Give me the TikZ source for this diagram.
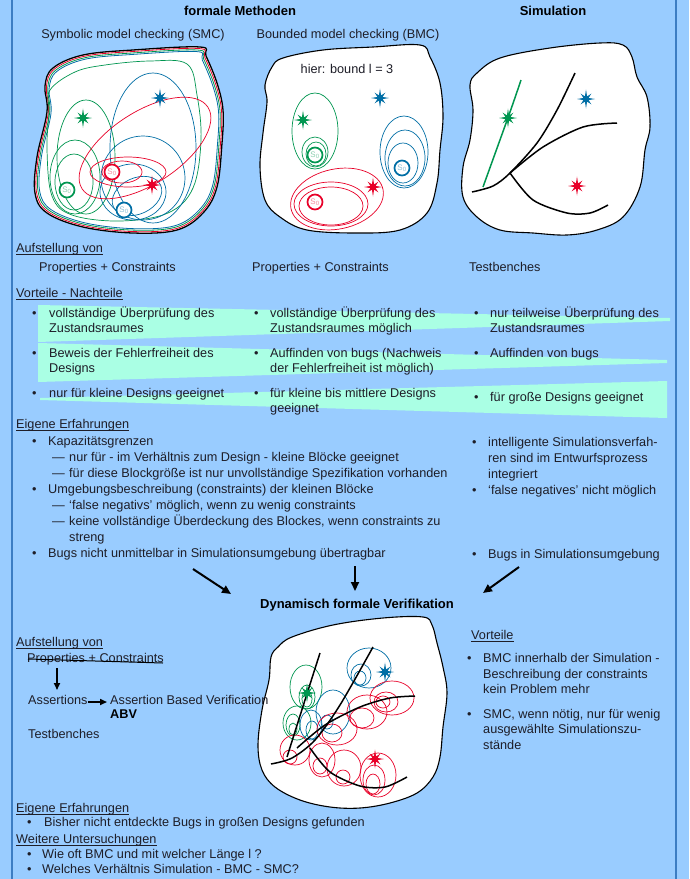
\documentclass[tikz,border=0pt]{standalone}
\usepackage{fontspec}
\setmainfont{Liberation Sans}
\usetikzlibrary{arrows.meta}
\definecolor{bg}{RGB}{153,204,255}
\definecolor{vline}{RGB}{60,125,195}
\definecolor{band}{RGB}{170,255,228}
\definecolor{cg}{RGB}{0,150,80}
\definecolor{cb}{RGB}{0,110,165}
\definecolor{cr}{RGB}{232,0,40}
\definecolor{txt}{RGB}{30,30,40}
\tikzset{
  tx/.style={anchor=base west, inner sep=0pt, text=txt, font=\fontsize{12.7}{16}\selectfont},
  ctr/.style={tx, anchor=base},
  ttl/.style={anchor=base, inner sep=0pt, text=black, font=\fontsize{13}{16}\selectfont\bfseries},
  blobline/.style={draw=black, fill=white, line width=1.1pt},
  ell/.style={line width=0.7pt},
  szero/.style={circle, draw=#1, line width=1.7pt, minimum size=15pt, inner sep=0pt, text=#1!45!white, font=\fontsize{8}{8}\selectfont},
  bigarrow/.style={line width=2pt, -{Triangle[length=9pt,width=8pt]}},
  smallarrow/.style={line width=1.6pt, -{Triangle[length=7pt,width=6pt]}},
  curve/.style={line width=1.5pt, black},
  uline/.style={draw=txt, line width=0.6pt},
}
\newcommand\drawstar[3]{\fill[#3, shift={(#1,#2)}] (90:9.5) -- (112.5:2.8) -- (135:7.5) -- (157.5:2.8) -- (180:9) -- (202.5:2.8) -- (225:7.5) -- (247.5:2.8) -- (270:9.5) -- (292.5:2.8) -- (315:7.5) -- (337.5:2.8) -- (0:9) -- (22.5:2.8) -- (45:7.5) -- (67.5:2.8) -- cycle;}
\newcommand\ulnode[1]{\draw[uline] ([yshift=-2pt]#1.base west) -- ([yshift=-2pt]#1.base east);}
\begin{document}
\begin{tikzpicture}[x=1pt,y=-1pt]
\useasboundingbox (0,0) rectangle (689,879);
\fill[bg] (0,0) rectangle (689,879);
\draw[vline, line width=1.2pt] (12,0) -- (12,879);
\draw[vline, line width=1.2pt] (676,0) -- (676,879);

% green bands
\fill[band] (38,305) -- (670,318) -- (670,321) -- (38,342) -- cycle;
\fill[band] (38,343) -- (667,360) -- (667,363) -- (38,382) -- cycle;
\fill[band] (40,398) -- (667,381) -- (667,418) -- (40,400) -- cycle;

% headings
\node[ttl] (h1) at (240,15) {formale Methoden};
\node[ttl] (h2) at (553,15) {Simulation};
\node[ctr] (s1) at (133,38) {Symbolic model checking (SMC)};
\node[ctr] (s2) at (348,38) {Bounded model checking (BMC)};

% ---------- SMC blob ----------
\fill[white] plot[smooth cycle, tension=0.6] coordinates {(45,86) (53,68) (83,55) (133,50) (200,47) (206,56) (217,83) (223,110) (222,143) (217,187) (203,213) (177,230) (133,233) (83,227) (47,213) (35,193) (37,157) (47,112)};
\foreach \c/\s/\w in {black/1/1.3pt, cr/0.984/0.8pt, cg/0.968/0.8pt, cb/0.952/0.8pt} {
  \draw[\c, line width=\w, scale around={\s:(130,142)}] plot[smooth cycle, tension=0.6] coordinates {(45,86) (53,68) (83,55) (133,50) (200,47) (206,56) (217,83) (223,110) (222,143) (217,187) (203,213) (177,230) (133,233) (83,227) (47,213) (35,193) (37,157) (47,112)};
}
\draw[cg, ell] plot[smooth cycle, tension=0.6] coordinates {(50,90) (75,72) (105,65) (150,61) (187,64) (197,95) (201,140) (193,188) (168,213) (120,221) (72,215) (52,196) (47,150) (49,112)};
\draw[cg, ell] (86,157) ellipse [x radius=29, y radius=57];
\draw[cg, ell] (75,177) ellipse [x radius=25, y radius=37];
\draw[cg, ell] (74,182) ellipse [x radius=19, y radius=28];
\draw[cb, ell] (153,148) ellipse [x radius=43, y radius=75];
\draw[cb, ell] (143,178) ellipse [x radius=42, y radius=42];
\draw[cb, ell] (133,192) ellipse [x radius=33, y radius=28];
\draw[cb, ell, shift={(137,196)}, rotate=25] (0,0) ellipse [x radius=26, y radius=18];
\draw[cr, ell, shift={(145,148)}, rotate=33] (0,0) ellipse [x radius=75, y radius=36];
\draw[cr, ell] (128,172) ellipse [x radius=38, y radius=15];
\draw[cr, ell] (122,172) ellipse [x radius=20, y radius=11];
\drawstar{83}{118}{cg}
\drawstar{160}{98}{cb}
\drawstar{152}{185}{cr}
\node[szero=cg, fill=white] (smczg) at (67,190) {S\textsubscript{0}};
\node[szero=cr, fill=white] (smczr) at (112,172) {S\textsubscript{0}};
\node[szero=cb, fill=white] (smczb) at (124,210) {S\textsubscript{0}};

% ---------- BMC blob ----------
\draw[blobline] plot[smooth cycle, tension=0.6] coordinates {(265,85) (272,67) (283,58) (323,50) (373,47) (420,45) (430,57) (440,83) (443,117) (440,150) (437,183) (427,213) (400,230) (357,233) (307,230) (280,217) (265,200) (260,167) (263,133) (267,102)};
\node[ctr] (s3) at (347,73) {hier: bound l = 3};
\draw[cg, ell] (315,131) ellipse [x radius=23, y radius=38];
\draw[cg, ell] (315,152) ellipse [x radius=13, y radius=15];
\draw[cg, ell] (316,154) ellipse [x radius=10, y radius=12];
\draw[cb, ell] (404,152) ellipse [x radius=24, y radius=36];
\draw[cb, ell] (405,158) ellipse [x radius=20, y radius=28];
\draw[cb, ell] (403,163) ellipse [x radius=15, y radius=20];
\draw[cr, ell, shift={(337,199)}, rotate=12] (0,0) ellipse [x radius=47, y radius=30];
\draw[cr, ell] (331,204) ellipse [x radius=37, y radius=22];
\draw[cr, ell] (331,206) ellipse [x radius=32, y radius=19];
\drawstar{303}{120}{cg}
\drawstar{380}{98}{cb}
\drawstar{373}{187}{cr}
\node[szero=cg, fill=white] (bmczg) at (315,155) {S\textsubscript{0}};
\node[szero=cb, fill=white] (bmczb) at (402,168) {S\textsubscript{0}};
\node[szero=cr, fill=white] (bmczr) at (315,202) {S\textsubscript{0}};

% ---------- Simulation blob ----------
\draw[blobline] plot[smooth cycle, tension=0.6] coordinates {(470,85) (477,73) (500,58) (550,48) (600,43) (623,45) (632,57) (637,77) (647,97) (650,127) (645,150) (640,187) (623,217) (597,230) (567,235) (533,233) (500,230) (477,217) (463,197) (463,167) (470,140) (473,110)};
\draw[cg, line width=1.5pt] plot[smooth] coordinates {(521,80) (510,112) (483,187)};
\draw[curve] plot[smooth] coordinates {(472,192) (493,186) (510,173) (537,143) (557,110) (575,73)};
\draw[curve] plot[smooth] coordinates {(510,173) (543,147) (583,127) (617,123)};
\draw[curve] plot[smooth] coordinates {(510,173) (533,200) (567,213) (590,213) (608,205)};
\drawstar{508}{118}{cg}
\drawstar{586}{99}{cb}
\drawstar{577}{186}{cr}

% ---------- row texts ----------
\node[tx] (auf1) at (16,252) {Aufstellung von}; \ulnode{auf1}
\node[tx] (pc1) at (39,271) {Properties + Constraints};
\node[tx] (pc2) at (252,271) {Properties + Constraints};
\node[tx] (tb1) at (469,271) {Testbenches};
\node[tx] (vn) at (16,297) {Vorteile - Nachteile}; \ulnode{vn}

\node[tx] (b11) at (32,317) {•};
\node[tx] (t11) at (49,317) {vollständige Überprüfung des};
\node[tx] (t12) at (49,332) {Zustandsraumes};
\node[tx] (b12) at (32,357) {•};
\node[tx] (t13) at (49,357) {Beweis der Fehlerfreiheit des};
\node[tx] (t14) at (49,372) {Designs};
\node[tx] (b13) at (32,397) {•};
\node[tx] (t15) at (49,397) {nur für kleine Designs geeignet};

\node[tx] (b21) at (254,317) {•};
\node[tx] (t21) at (270,317) {vollständige Überprüfung des};
\node[tx] (t22) at (270,332) {Zustandsraumes möglich};
\node[tx] (b22) at (254,357) {•};
\node[tx] (t23) at (270,357) {Auffinden von bugs (Nachweis};
\node[tx] (t24) at (270,372) {der Fehlerfreiheit ist möglich)};
\node[tx] (b23) at (254,397) {•};
\node[tx] (t25) at (270,397) {für kleine bis mittlere Designs};
\node[tx] (t26) at (270,412) {geeignet};

\node[tx] (b31) at (474,317) {•};
\node[tx] (t31) at (490,317) {nur teilweise Überprüfung des};
\node[tx] (t32) at (490,332) {Zustandsraumes};
\node[tx] (b32) at (474,357) {•};
\node[tx] (t33) at (490,357) {Auffinden von bugs};
\node[tx] (b33) at (474,401) {•};
\node[tx] (t34) at (490,401) {für große Designs geeignet};

% ---------- Eigene Erfahrungen ----------
\node[tx] (ee1) at (16,428) {Eigene Erfahrungen}; \ulnode{ee1}
\node[tx] (e1b) at (32,445) {•};
\node[tx] (e1) at (48,445) {Kapazitätsgrenzen};
\node[tx] (e2d) at (52,461) {—};
\node[tx] (e2) at (69,461) {nur für - im Verhältnis zum Design - kleine Blöcke geeignet};
\node[tx] (e3d) at (52,477) {—};
\node[tx] (e3) at (69,477) {für diese Blockgröße ist nur unvollständige Spezifikation vorhanden};
\node[tx] (e4b) at (32,493) {•};
\node[tx] (e4) at (48,493) {Umgebungsbeschreibung (constraints) der kleinen Blöcke};
\node[tx] (e5d) at (52,509) {—};
\node[tx] (e5) at (69,509) {‘false negativs’ möglich, wenn zu wenig constraints};
\node[tx] (e6d) at (52,525) {—};
\node[tx] (e6) at (69,525) {keine vollständige Überdeckung des Blockes, wenn constraints zu};
\node[tx] (e7) at (69,541) {streng};
\node[tx] (e8b) at (32,557) {•};
\node[tx] (e8) at (48,557) {Bugs nicht unmittelbar in Simulationsumgebung übertragbar};

\node[tx] (r1b) at (472,446) {•};
\node[tx] (r1) at (488,446) {intelligente Simulationsverfah-};
\node[tx] (r2) at (488,462) {ren sind im Entwurfsprozess};
\node[tx] (r3) at (488,478) {integriert};
\node[tx] (r4b) at (472,494) {•};
\node[tx] (r4) at (488,494) {‘false negatives’ nicht möglich};
\node[tx] (r5b) at (472,558) {•};
\node[tx] (r5) at (488,558) {Bugs in Simulationsumgebung};

% ---------- arrows to Dynamisch ----------
\node[ttl] (dyn) at (357,608) {Dynamisch formale Verifikation};
\coordinate (a1s) at (193,569); \coordinate (a1e) at (231,594);
\coordinate (a2s) at (355,566); \coordinate (a2e) at (355,591);
\coordinate (a3s) at (519,567); \coordinate (a3e) at (483,593);
\draw[bigarrow] (a1s) -- (a1e);
\draw[bigarrow] (a2s) -- (a2e);
\draw[bigarrow] (a3s) -- (a3e);

% ---------- Dynamic blob ----------
\draw[blobline] plot[smooth cycle, tension=0.6] coordinates {(271,657) (278,647) (292,637) (333,625) (383,618) (423,617) (432,625) (437,643) (443,667) (447,693) (443,727) (440,757) (433,777) (417,793) (390,803) (360,808) (330,807) (300,800) (275,787) (262,770) (258,745) (262,710) (269,680)};
\draw[cg, ell] (306,687) ellipse [x radius=16, y radius=22];
\draw[cg, ell] (297,723) ellipse [x radius=14, y radius=17];
\draw[cg, ell] (307,697) ellipse [x radius=8, y radius=12];
\draw[cg, ell] (307,699) ellipse [x radius=5, y radius=8];
\draw[cg, ell] (293,725) ellipse [x radius=7, y radius=11];
\draw[cg, ell] (293,729) ellipse [x radius=4, y radius=6];
\draw[cb, ell] (369,668) ellipse [x radius=22, y radius=20];
\draw[cb, ell] (361,675) ellipse [x radius=10, y radius=11];
\draw[cb, ell] (360,678) ellipse [x radius=6, y radius=7];
\draw[cb, ell] (333,712) ellipse [x radius=17, y radius=22];
\draw[cb, ell] (327,722) ellipse [x radius=6, y radius=7];
\draw[cb, ell] (311,725) ellipse [x radius=11, y radius=15];
\draw[cb, ell] (312,730) ellipse [x radius=6, y radius=9];
\draw[cr, ell] (367,712) ellipse [x radius=20, y radius=17];
\draw[cr, ell] (362,718) ellipse [x radius=12, y radius=10];
\draw[cr, ell] (392,698) ellipse [x radius=22, y radius=17];
\draw[cr, ell] (386,702) ellipse [x radius=12, y radius=10];
\draw[cr, ell] (383,702) ellipse [x radius=7, y radius=6];
\draw[cr, ell] (337,729) ellipse [x radius=20, y radius=16];
\draw[cr, ell] (332,733) ellipse [x radius=10, y radius=9];
\draw[cr, ell] (295,750) ellipse [x radius=15, y radius=15];
\draw[cr, ell] (290,757) ellipse [x radius=7, y radius=7];
\draw[cr, ell] (322,760) ellipse [x radius=13, y radius=17];
\draw[cr, ell] (320,766) ellipse [x radius=7, y radius=8];
\draw[cr, ell] (344,768) ellipse [x radius=17, y radius=18];
\draw[cr, ell] (343,777) ellipse [x radius=7, y radius=7];
\draw[cr, ell] (378,775) ellipse [x radius=18, y radius=22];
\draw[cr, ell] (374,780) ellipse [x radius=11, y radius=15];
\draw[cr, ell] (373,784) ellipse [x radius=7, y radius=10];
\draw[curve] plot[smooth] coordinates {(320,653) (305,700) (287,757)};
\draw[curve] plot[smooth] coordinates {(271,764) (292,758) (315,740) (340,705) (373,647)};
\draw[curve] plot[smooth] coordinates {(297,748) (325,725) (360,707) (390,698) (415,696)};
\draw[curve] plot[smooth] coordinates {(310,748) (330,772) (360,786) (385,787) (407,777)};
\drawstar{307}{693}{cg}
\drawstar{385}{672}{cb}
\drawstar{375}{759}{cr}

% ---------- bottom left ----------
\node[tx] (auf2) at (16,646) {Aufstellung von}; \ulnode{auf2}
\node[tx] (pc3) at (27,662) {Properties + Constraints};
\coordinate (st1) at (28,659); \coordinate (st2) at (163,663);
\draw[black, line width=1pt] (st1) -- (st2);
\node[tx] (as) at (28,704) {Assertions};
\node[tx] (abv) at (110,704) {Assertion Based Verification};
\node[tx, font=\fontsize{12.7}{16}\selectfont\bfseries, text=black] (abv2) at (110,718) {ABV};
\node[tx] (tb2) at (28,738) {Testbenches};
\coordinate (d1s) at (57,668); \coordinate (d1e) at (57,690);
\draw[smallarrow] (d1s) -- (d1e);
\coordinate (d2s) at (88,702); \coordinate (d2e) at (107,702);
\draw[smallarrow] (d2s) -- (d2e);

% ---------- bottom right ----------
\node[tx] (vt) at (471,639) {Vorteile}; \ulnode{vt}
\node[tx] (v1b) at (467,662) {•};
\node[tx] (v1) at (483,662) {BMC innerhalb der Simulation -};
\node[tx] (v2) at (483,678) {Beschreibung der constraints};
\node[tx] (v3) at (483,693) {kein Problem mehr};
\node[tx] (v4b) at (467,718) {•};
\node[tx] (v4) at (483,718) {SMC, wenn nötig, nur für wenig};
\node[tx] (v5) at (483,733) {ausgewählte Simulationszu-};
\node[tx] (v6) at (483,749) {stände};

% ---------- bottom ----------
\node[tx] (ee2) at (16,812) {Eigene Erfahrungen}; \ulnode{ee2}
\node[tx] (f1b) at (27,826) {•};
\node[tx] (f1) at (44,826) {Bisher nicht entdeckte Bugs in großen Designs gefunden};
\node[tx] (wu) at (16,843) {Weitere Untersuchungen}; \ulnode{wu}
\node[tx] (g1b) at (27,858) {•};
\node[tx] (g1) at (42,858) {Wie oft BMC und mit welcher Länge l ?};
\node[tx] (g2b) at (27,873) {•};
\node[tx] (g2) at (42,873) {Welches Verhältnis Simulation - BMC - SMC?};
\end{tikzpicture}
\end{document}
